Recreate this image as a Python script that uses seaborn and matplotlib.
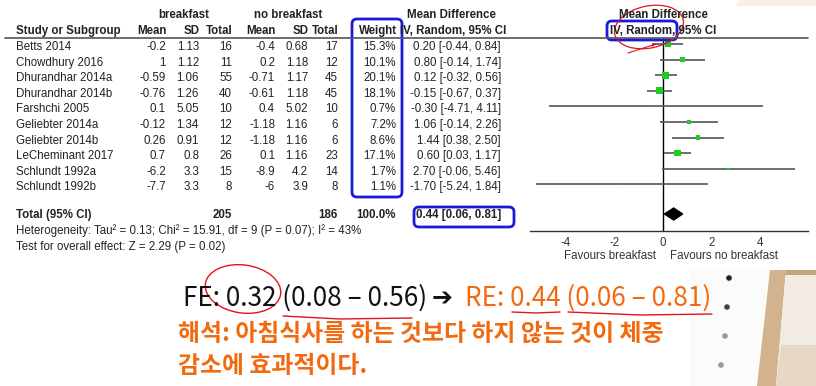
import numpy as np
import pandas as pd
import matplotlib
matplotlib.use("Agg")
import matplotlib.pyplot as plt
import seaborn as sns
from matplotlib.patches import FancyBboxPatch, Ellipse, Polygon, Circle

sns.set_style("white")
plt.rcParams['font.family'] = ['Liberation Sans', 'DejaVu Sans']

# data
studies = ["Betts 2014", "Chowdhury 2016", "Dhurandhar 2014a", "Dhurandhar 2014b",
           "Farshchi 2005", "Geliebter 2014a", "Geliebter 2014b", "LeCheminant 2017",
           "Schlundt 1992a", "Schlundt 1992b"]
bf_mean = [-0.2, 1, -0.59, -0.76, 0.1, -0.12, 0.26, 0.7, -6.2, -7.7]
bf_sd = [1.13, 1.12, 1.06, 1.26, 5.05, 1.34, 0.91, 0.8, 3.3, 3.3]
bf_n = [16, 11, 55, 40, 10, 12, 12, 26, 15, 8]
nb_mean = [-0.4, 0.2, -0.71, -0.61, 0.4, -1.18, -1.18, 0.1, -8.9, -6]
nb_sd = [0.68, 1.18, 1.17, 1.18, 5.02, 1.16, 1.16, 1.16, 4.2, 3.9]
nb_n = [17, 12, 45, 45, 10, 6, 6, 23, 14, 8]
weight = [15.3, 10.1, 20.1, 18.1, 0.7, 7.2, 8.6, 17.1, 1.7, 1.1]
md = [0.20, 0.80, 0.12, -0.15, -0.30, 1.06, 1.44, 0.60, 2.70, -1.70]
ci_lo = [-0.44, -0.14, -0.32, -0.67, -4.71, -0.14, 0.38, 0.03, -0.06, -5.24]
ci_hi = [0.84, 1.74, 0.56, 0.37, 4.11, 2.26, 2.50, 1.17, 5.46, 1.84]
total_bf, total_nb = 205, 186
pooled = [0.44, 0.06, 0.81]
ticks = [-4, -2, 0, 2, 4]

df = pd.DataFrame({"study": studies, "md": md, "lo": ci_lo, "hi": ci_hi,
                   "weight": weight, "row": np.arange(len(studies))})

W, H = 816, 386
fig = plt.figure(figsize=(W / 100, H / 100), dpi=100)
fig.patch.set_facecolor("white")

# overlay axes in pixel coords (text, boxes)
ov = fig.add_axes([0, 0, 1, 1], zorder=3)
ov.set_xlim(0, W)
ov.set_ylim(H, 0)
ov.axis("off")
ov.patch.set_alpha(0)

bg = fig.add_axes([0, 0, 1, 1], zorder=0)
bg.set_xlim(0, W)
bg.set_ylim(H, 0)
bg.axis("off")

# background photo hints (bottom right)
bg.add_patch(Polygon([[740, 0], [816, 0], [816, 6], [735, 6]], color="#f6f0e7", lw=0))
bg.add_patch(Polygon([[690, 270], [770, 270], [757, 386], [690, 386]], color="#fbfbfb", lw=0))
bg.add_patch(Polygon([[770, 270], [786, 270], [776, 386], [757, 386]], color="#d2b38e", lw=0))
bg.add_patch(Polygon([[786, 270], [816, 270], [816, 386], [776, 386]], color="#f2ebe1", lw=0))
bg.add_patch(Polygon([[781, 345], [816, 345], [816, 386], [776, 386]], color="#e6d8c4", lw=0))
bg.add_patch(Polygon([[786, 270], [816, 270], [816, 275], [785, 275]], color="#c4a47e", lw=0))
for kx, ky, kc in [(729, 278, "#222222"), (727, 307, "#444444"), (725, 336, "#999999"), (721, 365, "#999999")]:
    bg.add_patch(Circle((kx, ky), 2.8, color=kc, lw=0))

# forest axes
x0, xs = 663, 24.25
ax_l, ax_r, ax_t, ax_b = 530, 808, 38, 231
row0, dy = 44, 15.6
ax = fig.add_axes([ax_l / W, 1 - ax_b / H, (ax_r - ax_l) / W, (ax_b - ax_t) / H], zorder=2)
ax.patch.set_alpha(0)
ax.set_xlim((ax_l - x0) / xs, (ax_r - x0) / xs)
ax.set_ylim((ax_b - row0) / dy, (ax_t - row0) / dy)

ax.hlines(df["row"], df["lo"], df["hi"], color="#555555", lw=1.2, zorder=2)
sns.scatterplot(data=df, x="md", y="row", size="weight", sizes=(1.3 * 0.7, 1.3 * 20.1),
                size_norm=(0.7, 20.1), marker="s", color="#1fcc1f", edgecolor="none",
                legend=False, ax=ax, zorder=3)
ax.axvline(0, color="black", lw=1, zorder=1)
ty = (214 - row0) / dy
hh = 6 / dy
ax.add_patch(Polygon([[pooled[1], ty], [pooled[0], ty - hh], [pooled[2], ty], [pooled[0], ty + hh]],
                     closed=True, color="black", zorder=4))
for s in ["top", "left", "right"]:
    ax.spines[s].set_visible(False)
ax.spines["bottom"].set_color("#333333")
ax.spines["bottom"].set_linewidth(1)
ax.set_xticks(ticks)
ax.set_xticklabels([str(t) for t in ticks])
ax.set_yticks([])
ax.set_xlabel("")
ax.set_ylabel("")
ax.tick_params(axis="x", direction="inout", length=7, width=1, color="#333333",
               labelsize=8.3, labelcolor="#333333", pad=1)

# table
fs = 8.3
tc = "#222222"
ov.plot([5, 808], [38, 38], color="#555555", lw=1.2)
ov.text(184, 15, "breakfast", ha="center", va="center", fontsize=fs, fontweight="bold", color=tc)
ov.text(288, 15, "no breakfast", ha="center", va="center", fontsize=fs, fontweight="bold", color=tc)
ov.text(451, 15, "Mean Difference", ha="center", va="center", fontsize=fs, fontweight="bold", color=tc)
ov.text(663, 15, "Mean Difference", ha="center", va="center", fontsize=fs, fontweight="bold", color=tc)
hy = 31
ov.text(16, hy, "Study or Subgroup", ha="left", va="center", fontsize=fs, fontweight="bold", color=tc)
cols = [(167, "Mean"), (200, "SD"), (233, "Total"), (276, "Mean"), (309, "SD"), (339, "Total"), (397, "Weight")]
for cx, lab in cols:
    ov.text(cx, hy, lab, ha="right", va="center", fontsize=fs, fontweight="bold", color=tc)
ov.text(453, hy, "IV, Random, 95% CI", ha="center", va="center", fontsize=fs, fontweight="bold", color=tc)
ov.text(663, hy, "IV, Random, 95% CI", ha="center", va="center", fontsize=fs, fontweight="bold", color=tc)

for i, st in enumerate(studies):
    y = row0 + dy * i + 3
    vals = [f"{bf_mean[i]:g}", f"{bf_sd[i]:g}", str(bf_n[i]), f"{nb_mean[i]:g}", f"{nb_sd[i]:g}",
            str(nb_n[i]), f"{weight[i]:.1f}%"]
    ov.text(16, y, st, ha="left", va="center", fontsize=fs, color=tc)
    for (cx, _), v in zip(cols, vals):
        ov.text(cx - 1, y, v, ha="right", va="center", fontsize=fs, color=tc)
    ov.text(501, y, f"{md[i]:.2f} [{ci_lo[i]:.2f}, {ci_hi[i]:.2f}]", ha="right", va="center",
            fontsize=fs, color=tc)

yt = 215
ov.text(16, yt, "Total (95% CI)", ha="left", va="center", fontsize=fs, fontweight="bold", color=tc)
ov.text(232, yt, str(total_bf), ha="right", va="center", fontsize=fs, fontweight="bold", color=tc)
ov.text(338, yt, str(total_nb), ha="right", va="center", fontsize=fs, fontweight="bold", color=tc)
ov.text(396, yt, "100.0%", ha="right", va="center", fontsize=fs, fontweight="bold", color=tc)
ov.text(501, yt, f"{pooled[0]:.2f} [{pooled[1]:.2f}, {pooled[2]:.2f}]", ha="right", va="center",
        fontsize=fs, fontweight="bold", color=tc)
ov.text(16, 231, "Heterogeneity: Tau\u00b2 = 0.13; Chi\u00b2 = 15.91, df = 9 (P = 0.07); I\u00b2 = 43%",
        ha="left", va="center", fontsize=fs, color=tc)
ov.text(16, 247, "Test for overall effect: Z = 2.29 (P = 0.02)", ha="left", va="center", fontsize=fs, color=tc)
ov.text(610, 256, "Favours breakfast", ha="center", va="center", fontsize=fs, color="#333333")
ov.text(724, 256, "Favours no breakfast", ha="center", va="center", fontsize=fs, color="#333333")

# annotations: blue boxes and red marks
blue = "#1a1adb"
for (bx, by, bw, bh) in [(352, 19, 50, 178), (414, 207, 100, 20), (607, 21, 70, 19)]:
    ov.add_patch(FancyBboxPatch((bx, by), bw, bh, boxstyle="round,pad=0,rounding_size=5",
                                fill=False, edgecolor=blue, lw=2))
red = "#e0141e"
ov.add_patch(Ellipse((649, 27), 70, 42, angle=-12, fill=False, edgecolor=red, lw=0.9))
ov.plot([628, 656, 652], [53, 44, 46], color=red, lw=0.8)
ov.add_patch(Ellipse((243, 289), 76, 48, angle=8, fill=False, edgecolor=red, lw=1))
ov.plot([283, 340, 412], [316, 319, 318], color=red, lw=1)
ov.plot([512, 536, 560], [312, 313, 312], color=red, lw=1)
ov.plot([568, 640, 712], [312, 315, 314], color=red, lw=1)

# summary lines under the chart
kr = ['Noto Sans CJK KR', 'DejaVu Sans']
orange = "#f26a0f"
ov.text(183, 298, "FE: 0.32 (0.08 \u2013 0.56)", ha="left", va="center", fontsize=18.8, family=kr, color="#111111")
ov.text(432, 298, "\u2794", ha="left", va="center", fontsize=18, family=['DejaVu Sans'], color="#111111")
ov.text(465, 298, "RE: 0.44 (0.06 \u2013 0.81)", ha="left", va="center", fontsize=18.8, family=kr, color=orange)
ov.text(178, 334, "해석: 아침식사를 하는 것보다 하지 않는 것이 체중", ha="left", va="center",
        fontsize=17.2, fontweight="bold", family=kr, color=orange)
ov.text(178, 366, "감소에 효과적이다.", ha="left", va="center", fontsize=17.2, fontweight="bold",
        family=kr, color=orange)

fig.savefig("out.png", dpi=100)
